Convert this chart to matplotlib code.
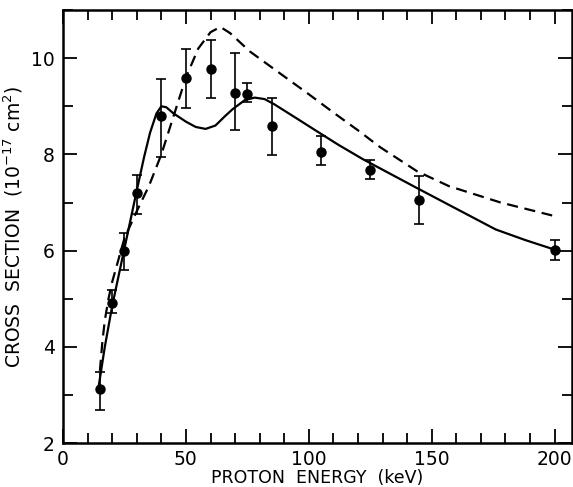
import numpy as np
import matplotlib.pyplot as plt
from matplotlib.ticker import MultipleLocator

# measured cross sections with error bars
energy = [15, 20, 25, 30, 40, 50, 60, 70, 75, 85, 105, 125, 145, 200]
sigma = [3.12, 4.91, 5.99, 7.2, 8.8, 9.59, 9.78, 9.28, 9.26, 8.59, 8.06, 7.68, 7.05, 6.02]
err_lo = [2.69, 4.70, 5.59, 6.76, 7.94, 8.97, 9.17, 8.51, 9.09, 7.99, 7.78, 7.49, 6.56, 5.81]
err_hi = [3.47, 5.19, 6.37, 7.58, 9.56, 10.19, 10.38, 10.1, 9.48, 9.18, 8.38, 7.88, 7.56, 6.23]

# solid theory curve
solid_e = [14.6, 17, 20, 25, 30, 33, 35.4, 38, 40, 42, 45, 50, 54, 58, 62, 66, 69,
           74, 78, 82, 86, 95, 103, 112, 122, 133, 144, 160, 176, 188, 200]
solid_s = [3.21, 4.0, 4.85, 6.05, 7.25, 7.95, 8.45, 8.85, 9.0, 8.98, 8.85, 8.68, 8.57,
           8.53, 8.6, 8.8, 8.94, 9.13, 9.18, 9.15, 9.04, 8.75, 8.49, 8.2, 7.9, 7.6, 7.3,
           6.87, 6.44, 6.22, 6.02]

# dashed theory curve
dash_e = [15, 16, 17, 18.5, 20, 25, 30, 35, 40, 45, 50, 55, 60, 64, 68, 76, 90, 100,
          110, 120, 129, 144, 157, 178, 199]
dash_s = [3.5, 4.1, 4.55, 5.0, 5.35, 6.26, 6.82, 7.35, 8.0, 8.8, 9.6, 10.2, 10.54, 10.65,
          10.52, 10.14, 9.62, 9.25, 8.87, 8.5, 8.15, 7.65, 7.34, 7.0, 6.73]

fig = plt.figure(figsize=(5.73, 4.87), dpi=100)
ax = fig.add_axes([0.110, 0.0903, 0.888, 0.889])

ax.plot(solid_e, solid_s, 'k-', lw=1.6)
ax.plot(dash_e, dash_s, 'k--', lw=1.6, dashes=(5, 3))

s = np.array(sigma)
yerr = [s - np.array(err_lo), np.array(err_hi) - s]
ax.errorbar(energy, sigma, yerr=yerr, fmt='o', color='k', ms=6.5,
            elinewidth=1.2, capsize=3.5, capthick=1.2)

ax.set_xlim(0, 207)
ax.set_ylim(2, 11)
ax.set_xticks([0, 50, 100, 150, 200])
ax.xaxis.set_minor_locator(MultipleLocator(10))
ax.set_yticks([2, 4, 6, 8, 10])
ax.yaxis.set_minor_locator(MultipleLocator(1))
ax.tick_params(which='both', direction='in', top=True, right=True, width=1.3,
               labelsize=13.5)
ax.tick_params(axis='y', pad=6)
ax.tick_params(axis='x', pad=5)
ax.tick_params(which='major', length=10)
ax.tick_params(which='minor', length=7)
for sp in ax.spines.values():
    sp.set_linewidth(1.8)

ax.set_xlabel('PROTON  ENERGY  (keV)', fontsize=12.5, labelpad=0)
ax.set_ylabel('CROSS  SECTION  (10$^{-17}$ cm$^{2}$)', fontsize=13.5, labelpad=4)

plt.savefig('out.png', dpi=100)
